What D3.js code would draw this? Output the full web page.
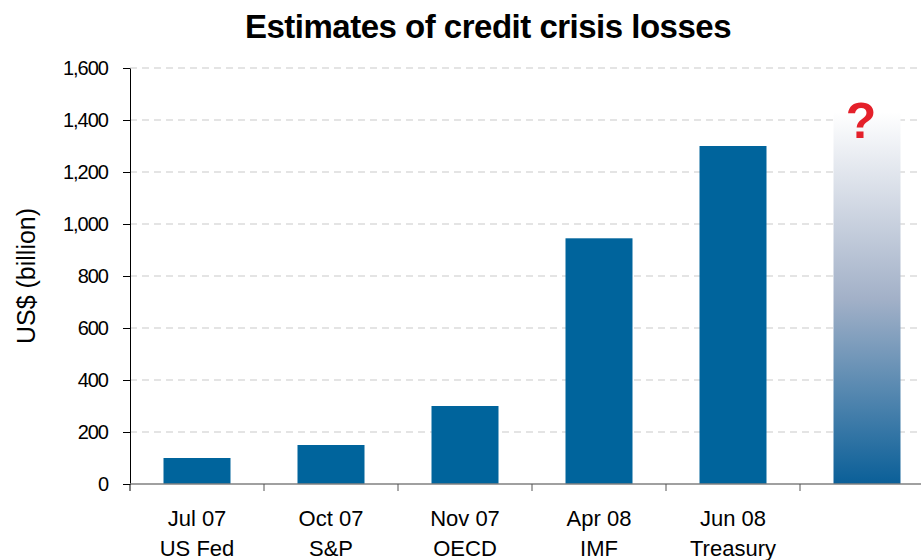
<!DOCTYPE html>
<meta charset="utf-8">
<style>
    body { margin: 0; background: #fff; }
    .container { width: 921px; height: 560px; }
    text { font-family: "Liberation Sans", Arial, sans-serif; }
</style>
<body>
<div class="container"></div>
<script src="https://cdn.jsdelivr.net/npm/d3@7"></script>
<script>

// data
const months = ['Jul 07', 'Oct 07', 'Nov 07', 'Apr 08', 'Jun 08', ''];
const sources = ['US Fed', 'S&P', 'OECD', 'IMF', 'Treasury', ''];
const losses = [100, 150, 300, 945, 1300, 1430];
const yTicks = [0, 200, 400, 600, 800, 1000, 1200, 1400, 1600];

const width = 921;
const height = 560;
const margin = { left: 130, top: 68, bottom: 76 };

const svg = d3.select('.container')
                .append('svg')
                .attr('width', width)
                .attr('height', height);

const x = d3.scaleBand()
            .domain(d3.range(months.length))
            .range([margin.left, margin.left + 134 * months.length])
            .paddingInner(0.5)
            .paddingOuter(0.25);

const y = d3.scaleLinear()
            .domain([0, 1600])
            .range([height - margin.bottom, margin.top]);

// gradient for the "unknown" bar
const grad = svg.append('defs').append('linearGradient')
                .attr('id', 'fade')
                .attr('x1', 0).attr('y1', 1).attr('x2', 0).attr('y2', 0);
grad.append('stop').attr('offset', '0%').attr('stop-color', '#0a5f98');
grad.append('stop').attr('offset', '50%').attr('stop-color', '#a3b1c8');
grad.append('stop').attr('offset', '100%').attr('stop-color', '#ffffff');

// gridlines
svg.append('g')
    .selectAll('line')
    .data(yTicks.filter(d => d > 0))
    .enter()
    .append('line')
    .attr('x1', margin.left)
    .attr('x2', width)
    .attr('y1', d => y(d))
    .attr('y2', d => y(d))
    .style('stroke', '#c9c9c9')
    .style('stroke-width', 1)
    .style('stroke-dasharray', '7,5');

// bars
svg.append('g')
    .selectAll('rect')
    .data(losses)
    .enter()
    .append('rect')
    .attr('x', (d, i) => x(i))
    .attr('width', x.bandwidth())
    .attr('y', d => y(d))
    .attr('height', d => y(0) - y(d))
    .style('fill', (d, i) => i === losses.length - 1 ? 'url(#fade)' : '#00649c');

// question mark above the last bar
svg.append('text')
    .attr('x', x(losses.length - 1) + x.bandwidth() / 2 - 6)
    .attr('y', 138)
    .attr('text-anchor', 'middle')
    .style('font-size', '50px')
    .style('font-weight', 'bold')
    .style('fill', '#e4202a')
    .text('?');

// y axis
const yAxis = svg.append('g')
    .attr('transform', `translate(${margin.left},0)`)
    .call(d3.axisLeft(y).tickValues(yTicks).tickSize(7).tickSizeOuter(0).tickFormat(d3.format(',')));
yAxis.select('.domain').style('stroke', '#000');
yAxis.selectAll('.tick line').style('stroke', '#000');
yAxis.selectAll('.tick text')
    .attr('x', -22)
    .style('font-size', '20px')
    .style('letter-spacing', '-1px')
    .style('fill', '#000');

// x axis
const step = x.step();
const xAxis = svg.append('g')
    .attr('transform', `translate(0,${y(0)})`);
xAxis.append('line')
    .attr('x1', margin.left)
    .attr('x2', width)
    .style('stroke', '#808080')
    .style('stroke-width', 1.5);
xAxis.selectAll('line.tick')
    .data(d3.range(months.length + 1))
    .enter()
    .append('line')
    .attr('class', 'tick')
    .attr('x1', i => margin.left + i * step)
    .attr('x2', i => margin.left + i * step)
    .attr('y1', 0)
    .attr('y2', 7)
    .style('stroke', (d, i) => i === 0 ? '#000' : '#555');

const labels = xAxis.selectAll('text.cat')
    .data(months)
    .enter()
    .append('text')
    .attr('class', 'cat')
    .attr('text-anchor', 'middle')
    .style('font-size', '22px')
    .style('fill', '#000');
labels.append('tspan')
    .attr('x', (d, i) => x(i) + x.bandwidth() / 2)
    .attr('y', 42)
    .text(d => d);
labels.append('tspan')
    .attr('x', (d, i) => x(i) + x.bandwidth() / 2)
    .attr('y', 72)
    .text((d, i) => sources[i]);

// axis title
svg.append('text')
    .attr('transform', `translate(35,${(y(0) + y(1600)) / 2}) rotate(-90)`)
    .attr('text-anchor', 'middle')
    .style('font-size', '25px')
    .text('US$ (billion)');

// chart title
svg.append('text')
    .attr('x', 488)
    .attr('y', 38)
    .attr('text-anchor', 'middle')
    .style('font-size', '33px')
    .style('font-weight', 'bold')
    .style('letter-spacing', '-0.5px')
    .text('Estimates of credit crisis losses');

</script>
</body>
